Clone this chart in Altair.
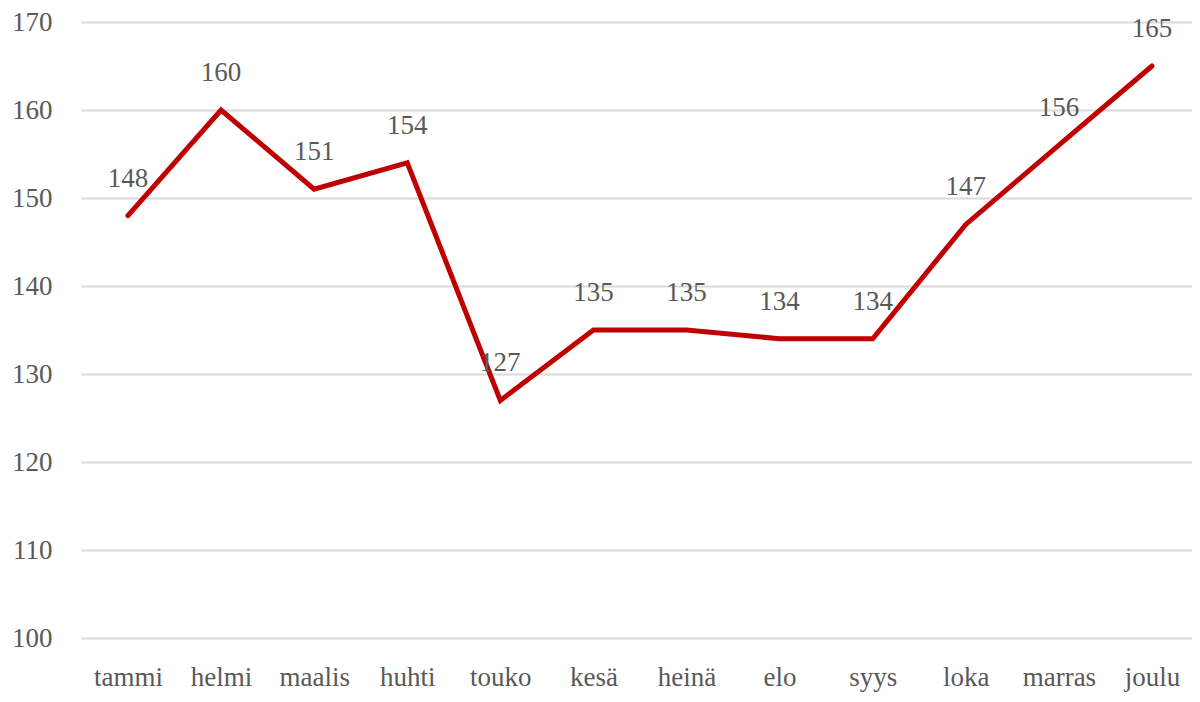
import altair as alt
import pandas as pd

months = ["tammi", "helmi", "maalis", "huhti", "touko", "kesä", "heinä", "elo", "syys", "loka", "marras", "joulu"]
values = [148, 160, 151, 154, 127, 135, 135, 134, 134, 147, 156, 165]
y_ticks = [100, 110, 120, 130, 140, 150, 160, 170]

df = pd.DataFrame({"kk": months, "arvo": values})

FONT = "Liberation Serif"
GREY = "#595959"
FS = 27

x = alt.X("kk:O", sort=months, title=None,
          scale=alt.Scale(type="point", padding=0.467, align=0.54),
          axis=alt.Axis(labelAngle=0, labelFontSize=FS, labelFont=FONT, labelColor=GREY,
                        labelPadding=26, ticks=False, domain=False, grid=False))
y = alt.Y("arvo:Q", title=None,
          scale=alt.Scale(domain=[100, 170], nice=False, zero=False),
          axis=alt.Axis(values=y_ticks, labelFontSize=FS, labelFont=FONT, labelColor=GREY,
                        labelPadding=29, ticks=False, domain=False, gridColor="#D9D9D9",
                        gridWidth=2))

base = alt.Chart(df).encode(x=x, y=y)
line = base.mark_line(color="#C00000", strokeWidth=5, strokeCap="round", strokeJoin="miter")
labels = base.mark_text(dy=-37, fontSize=FS, font=FONT, color=GREY).encode(text="arvo:Q")

chart = (line + labels).properties(
    width=1111, height=616,
    autosize=alt.AutoSizeParams(type="none"),
    padding={"left": 73, "top": 14, "right": 0, "bottom": 62},
).configure_view(stroke=None)

chart.save("out.html", embed_options={"renderer": "svg", "actions": False})
